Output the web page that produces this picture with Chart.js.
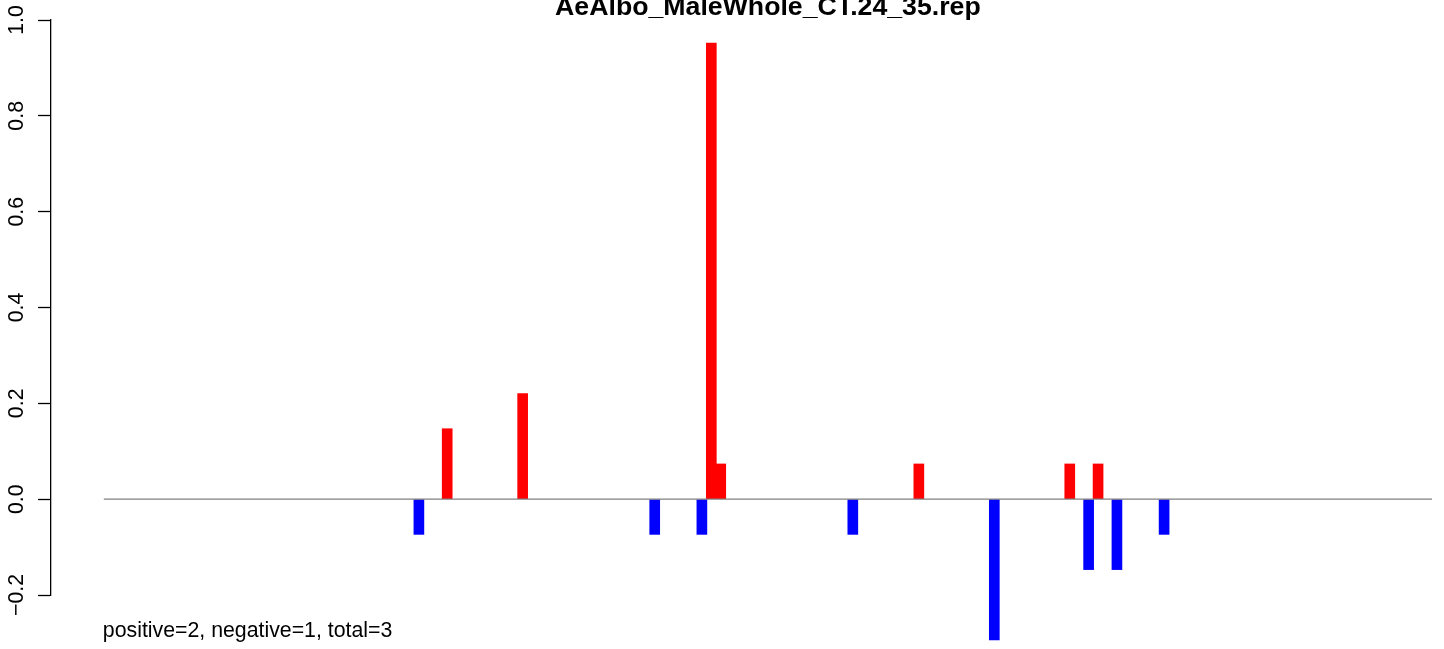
<!DOCTYPE html>
<html>
<head>
<meta charset="utf-8">
<script src="https://cdn.jsdelivr.net/npm/chart.js@4/dist/chart.umd.min.js"></script>
<style>
  html, body { margin: 0; padding: 0; background: #fff; }
  #wrap { width: 1444px; height: 649px; }
</style>
</head>
<body>
<div id="wrap"><canvas id="repChart" width="1444" height="649"></canvas></div>
<script>
// Positions and values
const chartTitle = 'AeAlbo_MaleWhole_CT.24_35.rep';
const footNote = 'positive=2, negative=1, total=3';

const positivePos = [-34, -26, -6, -5, 16, 32, 35];
const positiveVal = [0.147, 0.2205, 0.952, 0.0735, 0.0735, 0.0735, 0.0735];

const negativePos = [-37, -12, -7, 9, 24, 34, 37, 42];
const negativeVal = [-0.0735, -0.0735, -0.0735, -0.0735, -0.294, -0.147, -0.147, -0.0735];

const yTicks = [-0.2, 0.0, 0.2, 0.4, 0.6, 0.8, 1.0];
const xRange = [-76.0, 70.4];
const zeroLineRange = [-70.4, 70.4];

const FONT = '"Liberation Sans", Arial, Helvetica, sans-serif';

// titre + legende en bas, dessines a la main comme dans R
const textPlugin = {
    id: 'rText',
    afterDraw(chart) {
        const ctx = chart.ctx;
        ctx.save();
        ctx.fillStyle = '#000';
        ctx.textBaseline = 'alphabetic';
        ctx.font = 'bold 26.7px ' + FONT;
        ctx.textAlign = 'center';
        const xs = chart.scales.x;
        const mid = (xs.getPixelForValue(zeroLineRange[0]) + xs.getPixelForValue(zeroLineRange[1])) / 2;
        ctx.fillText(chartTitle, mid, 15);
        ctx.font = '21.3px ' + FONT;
        ctx.textAlign = 'left';
        ctx.fillText(footNote, xs.getPixelForValue(zeroLineRange[0]) - 1, 637);
        ctx.restore();
    }
};

const ctx = document.getElementById('repChart').getContext('2d');
new Chart(ctx, {
    type: 'bar',
    data: {
        datasets: [
            {
                type: 'line',
                data: zeroLineRange.map(x => ({ x: x, y: 0 })),
                borderColor: '#808080',
                borderWidth: 1.2,
                pointRadius: 0,
                order: 0,
                clip: false
            },
            {
                label: 'positive',
                data: positivePos.map((x, i) => ({ x: x, y: positiveVal[i] })),
                backgroundColor: '#ff0000',
                borderWidth: 0,
                barThickness: 10,
                grouped: false,
                order: 1,
                clip: false
            },
            {
                label: 'negative',
                data: negativePos.map((x, i) => ({ x: x, y: negativeVal[i] })),
                backgroundColor: '#0000ff',
                borderWidth: 0,
                barThickness: 10,
                grouped: false,
                order: 1,
                clip: false
            }
        ]
    },
    options: {
        responsive: false,
        animation: false,
        layout: { padding: { left: 0, right: 12, top: 20, bottom: 54 } },
        plugins: {
            legend: { display: false },
            tooltip: { enabled: false },
            title: { display: false }
        },
        scales: {
            x: {
                type: 'linear',
                min: xRange[0],
                max: xRange[1],
                offset: false,
                display: false
            },
            y: {
                type: 'linear',
                min: yTicks[0],
                max: yTicks[yTicks.length - 1],
                afterBuildTicks: (scale) => { scale.ticks = yTicks.map(v => ({ value: v })); },
                afterFit: (scale) => { scale.width = 51; },
                border: { display: true, color: '#000', width: 1.3 },
                grid: {
                    drawOnChartArea: false,
                    drawTicks: true,
                    tickLength: 13,
                    tickWidth: 1.3,
                    tickColor: '#000'
                },
                ticks: {
                    minRotation: 90,
                    maxRotation: 90,
                    crossAlign: 'center',
                    padding: 0,
                    color: '#000',
                    font: { family: FONT, size: 21.3 },
                    callback: (v) => Number(v).toFixed(1).replace('-', '\u2212')
                }
            }
        }
    },
    plugins: [textPlugin]
});
</script>
</body>
</html>
